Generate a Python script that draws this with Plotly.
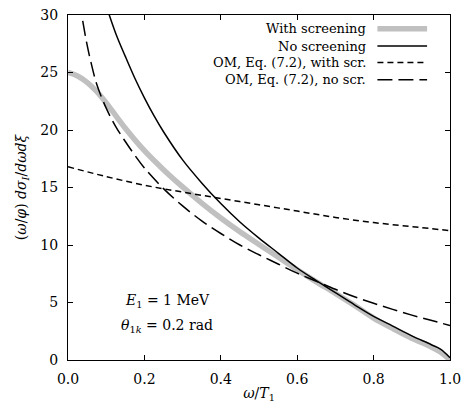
import plotly.graph_objects as go

# omega / T1 sampling points for each curve
x_scr = [0.0, 0.025, 0.05, 0.075, 0.1, 0.125, 0.15, 0.2, 0.25, 0.3, 0.35, 0.4, 0.45,
         0.5, 0.55, 0.6, 0.65, 0.7, 0.75, 0.8, 0.85, 0.9, 0.95, 0.975, 1.0]
y_scr = [25.0, 24.7, 24.15, 23.35, 22.35, 21.25, 20.15, 18.2, 16.55, 15.05, 13.65, 12.35, 11.15,
         10.05, 8.95, 7.85, 6.8, 5.8, 4.75, 3.65, 2.75, 1.9, 1.15, 0.7, 0.0]

x_noscr = [0.1, 0.125, 0.15, 0.175, 0.2, 0.225, 0.25, 0.3, 0.35, 0.4, 0.45, 0.5, 0.55,
           0.6, 0.65, 0.7, 0.75, 0.8, 0.85, 0.9, 0.95, 0.975, 1.0]
y_noscr = [30.8, 28.4, 26.4, 24.5, 22.8, 21.25, 19.85, 17.4, 15.4, 13.6, 12.0, 10.6, 9.3,
           8.0, 6.9, 5.85, 4.8, 3.8, 2.95, 2.1, 1.35, 0.95, 0.2]

x_om_scr = [0.0, 0.1, 0.2, 0.3, 0.4, 0.5, 0.6, 0.7, 0.8, 0.9, 1.0]
y_om_scr = [16.8, 15.95, 15.2, 14.6, 14.05, 13.5, 12.95, 12.4, 11.95, 11.6, 11.25]

x_om_noscr = [0.03, 0.04, 0.05, 0.06, 0.075, 0.1, 0.125, 0.15, 0.175, 0.2, 0.25, 0.3, 0.35,
              0.4, 0.45, 0.5, 0.55, 0.6, 0.65, 0.7, 0.75, 0.8, 0.85, 0.9, 0.95, 1.0]
y_om_noscr = [31.3, 29.2, 27.4, 25.9, 24.0, 21.9, 20.3, 19.0, 17.8, 16.7, 14.9, 13.4, 12.1,
              11.0, 10.0, 9.15, 8.35, 7.55, 6.85, 6.15, 5.5, 4.93, 4.4, 3.9, 3.45, 3.0]

x_ticks = [0.0, 0.2, 0.4, 0.6, 0.8, 1.0]
x_tick_text = ["0.0", "0.2", "0.4", "0.6", "0.8", "1.0"]
y_ticks = [0, 5, 10, 15, 20, 25, 30]

legend_labels = ["With screening", "No screening",
                 "OM, Eq. (7.2), with scr.", "OM, Eq. (7.2), no scr."]

GRAY = "#c0c0c0"
FONT = "DejaVu Serif"

styles = [
    dict(color=GRAY, width=5.5, dash="solid"),
    dict(color="black", width=1.5, dash="solid"),
    dict(color="black", width=1.5, dash="6px,4px"),
    dict(color="black", width=1.5, dash="15px,6px"),
]

fig = go.Figure()
series = [(x_scr, y_scr), (x_noscr, y_noscr), (x_om_scr, y_om_scr), (x_om_noscr, y_om_noscr)]
for (xs, ys), st, name in zip(series, styles, legend_labels):
    fig.add_trace(go.Scatter(x=xs, y=ys, mode="lines", name=name,
                             line=dict(shape="spline", smoothing=1.0, **st),
                             showlegend=False))

# legend drawn as right-aligned labels with sample lines to their right
row_y = [0.96, 0.91, 0.862, 0.812]
for label, st, yy in zip(legend_labels, styles, row_y):
    fig.add_annotation(x=0.785, y=yy, xref="paper", yref="paper", text=label,
                       showarrow=False, xanchor="right", yanchor="middle",
                       font=dict(family=FONT, size=13, color="black"))
    fig.add_shape(type="line", xref="paper", yref="paper",
                  x0=0.81, x1=0.94, y0=yy, y1=yy,
                  line=dict(color=st["color"], width=st["width"], dash=st["dash"]))

fig.add_annotation(x=0.26, y=5.1, xref="x", yref="y",
                   text="<i>E</i><sub>1</sub> = 1 MeV", showarrow=False,
                   font=dict(family=FONT, size=14, color="black"))
fig.add_annotation(x=0.26, y=3.0, xref="x", yref="y",
                   text="<i>θ</i><sub>1<i>k</i></sub> = 0.2 rad", showarrow=False,
                   font=dict(family=FONT, size=14, color="black"))

axis_common = dict(showline=True, linecolor="black", linewidth=1.3, mirror="ticks",
                   ticks="inside", ticklen=5, tickwidth=1, tickcolor="black",
                   showgrid=False, zeroline=False, automargin=False,
                   tickfont=dict(family=FONT, size=14, color="black"))

fig.update_xaxes(range=[0, 1.0], tickvals=x_ticks, ticktext=x_tick_text,
                 ticklabelstandoff=6,
                 title=dict(text="<i>ω</i>/<i>T</i><sub>1</sub>", standoff=2,
                            font=dict(family=FONT, size=14, color="black")),
                 **axis_common)
fig.update_yaxes(range=[0, 30], tickvals=y_ticks, ticklabelstandoff=6,
                 title=dict(text="(<i>ω</i>/<i>φ</i>) <i>dσ</i><sub><i>I</i></sub>/<i>dωdξ</i>",
                            standoff=10,
                            font=dict(family=FONT, size=14, color="black")),
                 **axis_common)

fig.update_layout(width=463, height=414,
                  margin=dict(l=68, r=13, t=15, b=54),
                  paper_bgcolor="white", plot_bgcolor="white",
                  font=dict(family=FONT, color="black"))

fig.write_html("out.html")
